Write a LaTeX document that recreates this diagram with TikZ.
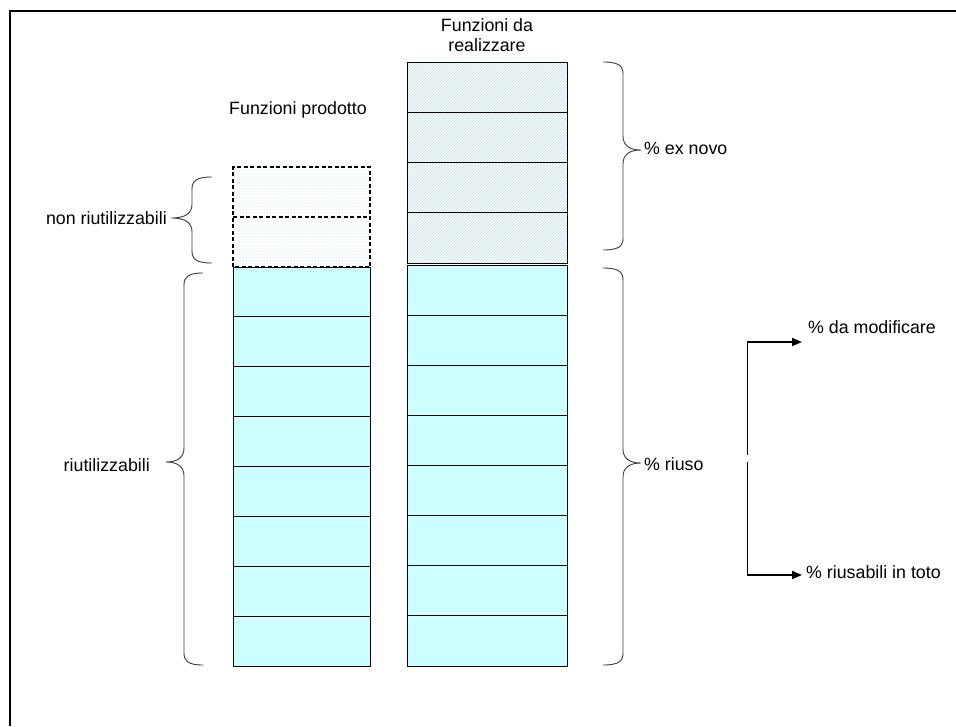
\documentclass[tikz,border=0pt]{standalone}
\usepackage{fontspec}
\setmainfont{Liberation Sans}
\usetikzlibrary{arrows.meta,patterns}

\definecolor{cellcyan}{RGB}{204,255,255}
\definecolor{hatchblue}{RGB}{185,222,230}
\definecolor{dotblue}{RGB}{165,215,220}
\definecolor{bracegray}{RGB}{60,60,60}

\tikzset{
  lbl/.style={font=\fontsize{17.8}{20.5}\selectfont, inner sep=0pt},
  reusecell/.style={fill=cellcyan, draw=black, line width=1pt},
  newcell/.style={pattern=north east lines, pattern color=hatchblue, draw=black, line width=1pt},
  lostfill/.style={pattern=dots, pattern color=dotblue},
  lostedge/.style={draw=black, line width=1.6pt, dash pattern=on 4pt off 2.5pt},
  bracestroke/.style={draw=bracegray, line width=0.9pt},
  flow/.style={draw=black, line width=1pt},
  flowtip/.style={draw=black, line width=1.8pt, -{Triangle[length=10pt,width=8pt]}}
}

% left-opening brace: #1 arm x, #2 spine x, #3 tip x, #4 top y, #5 tip y, #6 bottom y
\newcommand\leftbrace[6]{%
  \path[bracestroke] (#1,#4) .. controls ({#2+4},#4) and (#2,{#4+4}) .. (#2,{#4+12})
    -- (#2,{#5-14}) .. controls (#2,{#5-5}) and ({#2-6},#5) .. (#3,#5)
    .. controls ({#2-6},#5) and (#2,{#5+5}) .. (#2,{#5+14})
    -- (#2,{#6-12}) .. controls (#2,{#6-4}) and ({#2+4},#6) .. (#1,#6);}
% right-opening brace, same arguments mirrored
\newcommand\rightbrace[6]{%
  \path[bracestroke] (#1,#4) .. controls ({#2-4},#4) and (#2,{#4+4}) .. (#2,{#4+12})
    -- (#2,{#5-14}) .. controls (#2,{#5-5}) and ({#2+6},#5) .. (#3,#5)
    .. controls ({#2+6},#5) and (#2,{#5+5}) .. (#2,{#5+14})
    -- (#2,{#6-12}) .. controls (#2,{#6-4}) and ({#2-4},#6) .. (#1,#6);}

\begin{document}
\begin{tikzpicture}[x=1pt,y=-1pt]
\useasboundingbox (0,0) rectangle (956,726);
\fill[white] (0,0) rectangle (956,726);

% frame edges
\draw[line width=2pt] (9,10.5) -- (956,10.5);
\draw[line width=2pt] (10,10) -- (10,726);

% product functions column
\foreach \i in {0,...,7}
  \draw[reusecell] (233,{267+\i*49.875}) rectangle ++(137,49.875);
\fill[lostfill] (233,167) rectangle (370,267);
\draw[lostedge] (233,267) -- (233,167) -- (370,167) -- (370,267) -- cycle;
\draw[lostedge] (233,217) -- (370,217);

% functions to implement column
\foreach \i in {0,...,7}
  \draw[reusecell] (407,{265+\i*50.125}) rectangle ++(160,50.125);
\foreach \i in {0,...,3}
  \draw[newcell] (407,{62+\i*50.25}) rectangle ++(160,50.25);

% column titles
\node[lbl, align=center] (titnew) at (487,35) {Funzioni da\\realizzare};
\node[lbl] (titprod) at (298,110) {Funzioni prodotto};

% braces
\leftbrace{212}{192}{171}{177}{218}{263}
\leftbrace{203}{184}{166}{273}{462}{665}
\rightbrace{603}{623}{641}{62}{150}{250}
\rightbrace{603}{623}{641}{268}{463}{665}

% brace labels
\node[lbl, anchor=east] (nonriu) at (167,218) {non riutilizzabili};
\node[lbl, anchor=east] (riu) at (150,465) {riutilizzabili};
\node[lbl, anchor=west] (exnovo) at (644,148) {\% ex novo};
\node[lbl, anchor=west] (riuso) at (644,464) {\% riuso};

% split of the reused share
\node[lbl, anchor=west] (damod) at (808,327) {\% da modificare};
\node[lbl, anchor=west] (intoto) at (806,572) {\% riusabili in toto};
\coordinate (splitA) at (747,455);
\coordinate (splitB) at (747,462);
\coordinate (cornerA) at (747,342);
\coordinate (cornerB) at (747,575);
\coordinate (tipA) at (802,342);
\coordinate (tipB) at (802,575);
\draw[flow] (splitA) -- (cornerA);
\draw[flowtip] (cornerA) -- (tipA);
\draw[flow] (splitB) -- (cornerB);
\draw[flowtip] (cornerB) -- (tipB);
\end{tikzpicture}
\end{document}
